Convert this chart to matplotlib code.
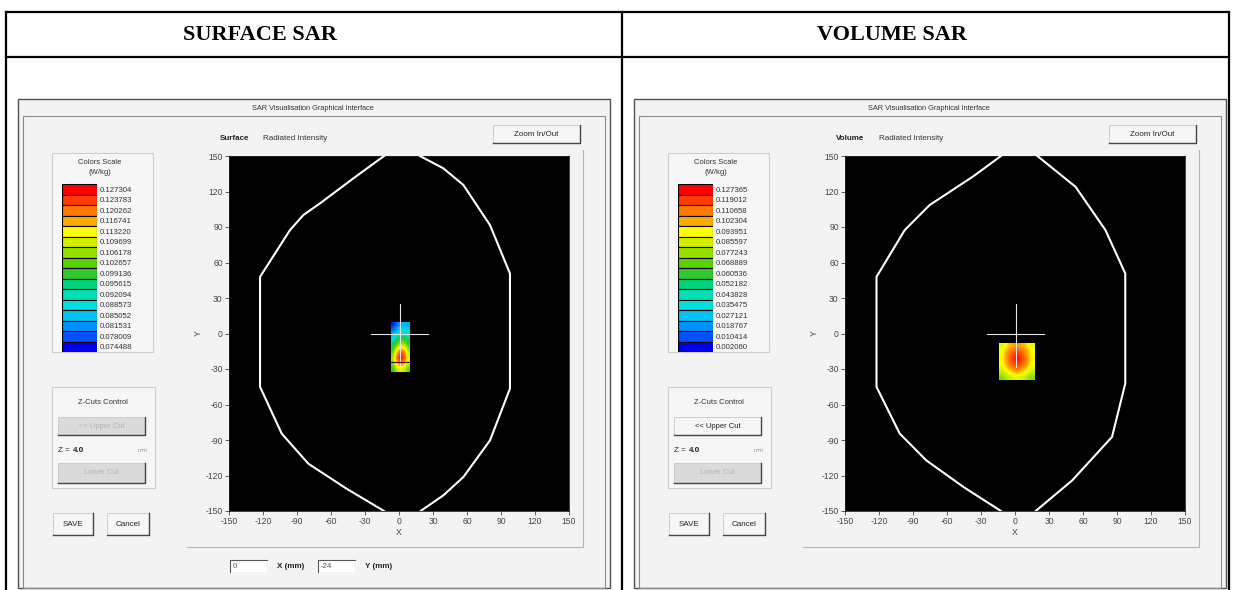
import matplotlib
matplotlib.use("Agg")
import matplotlib.pyplot as plt
from matplotlib.patches import Rectangle
from matplotlib.colors import LinearSegmentedColormap

plt.rcParams['axes.unicode_minus'] = False

# colour scale of the two SAR views (top = highest)
surface_levels = [0.127304, 0.123783, 0.120262, 0.116741, 0.113220, 0.109699,
                  0.106178, 0.102657, 0.099136, 0.095615, 0.092094, 0.088573,
                  0.085052, 0.081531, 0.078009, 0.074488]
volume_levels = [0.127365, 0.119012, 0.110658, 0.102304, 0.093951, 0.085597,
                 0.077243, 0.068889, 0.060536, 0.052182, 0.043828, 0.035475,
                 0.027121, 0.018767, 0.010414, 0.002060]
scale_colors = ['#ff0000', '#ff3c00', '#ff7800', '#ffaa00', '#ffff00', '#d2f000',
                '#96e000', '#5ad200', '#32c832', '#00d27d', '#00e0b4', '#00e0e0',
                '#00c3f5', '#0091ff', '#0050ff', '#0000f0']

# surface hot spot (rows top -> bottom), W/kg
surface_extent = [-7.4, 8.8, -32.5, 9.0]
surface_grid = [
    [0.0760, 0.0790, 0.0830, 0.0845, 0.0835],
    [0.0800, 0.0840, 0.0880, 0.0890, 0.0870],
    [0.0860, 0.0910, 0.0950, 0.0950, 0.0920],
    [0.0930, 0.0990, 0.1040, 0.1030, 0.0980],
    [0.0990, 0.1070, 0.1130, 0.1110, 0.1040],
    [0.1040, 0.1150, 0.1240, 0.1200, 0.1090],
    [0.1070, 0.1200, 0.1273, 0.1230, 0.1110],
    [0.1050, 0.1140, 0.1200, 0.1160, 0.1080],
    [0.1000, 0.1080, 0.1110, 0.1090, 0.1030],
]

# volume hot spot (rows top -> bottom), W/kg
volume_extent = [-14.5, 16.5, -39.0, -8.0]
volume_grid = [
    [0.090, 0.100, 0.106, 0.100, 0.090],
    [0.094, 0.110, 0.120, 0.110, 0.094],
    [0.095, 0.114, 0.127, 0.114, 0.095],
    [0.093, 0.110, 0.121, 0.110, 0.093],
    [0.086, 0.098, 0.106, 0.098, 0.086],
    [0.075, 0.085, 0.090, 0.085, 0.075],
]

# phantom outline (mm), left and right halves
surf_head_lx = [-13.2, -40.3, -69.7, -84.4, -96.2, -122.6, -122.6, -103.5, -80.0, -46.2, -13.2]
surf_head_ly = [150, 131.1, 110.0, 100.1, 87.4, 47.9, -45.1, -84.6, -110.0, -131.2, -150]
surf_head_rx = [19.1, 39.1, 56.8, 80.3, 97.9, 97.9, 80.3, 56.8, 39.1, 18.5]
surf_head_ry = [-150, -136.8, -121.3, -90.3, -46.6, 50.7, 91.6, 125.5, 139.6, 150]

vol_head_lx = [-12.4, -37.3, -75.4, -97.3, -122.2, -122.2, -101.7, -78.3, -45.0, -12.4]
vol_head_ly = [150, 132.5, 108.5, 87.4, 47.9, -45.1, -84.6, -107.2, -130.0, -150]
vol_head_rx = [18.3, 50.5, 85.6, 97.3, 97.3, 79.8, 53.4, 19.8]
vol_head_ry = [-150, -124.1, -87.4, -42.3, 50.7, 87.4, 124.0, 150]

ticks = [-150, -120, -90, -60, -30, 0, 30, 60, 90, 120, 150]
peak_x, peak_y = 0, -24

W, H = 1234, 590
GUI = 'Liberation Sans'


def frac(x0, y0, x1, y1):
    return [x0 / W, 1 - y1 / H, (x1 - x0) / W, (y1 - y0) / H]


def button(ax, x0, y0, x1, y1, label, enabled=True, size=5.8):
    face = '#f6f6f6' if enabled else '#dadada'
    ax.add_patch(Rectangle((x0, y0), x1 - x0, y1 - y0, facecolor=face,
                           edgecolor='#c8c8c8', lw=0.6))
    ax.plot([x0, x1, x1], [y1, y1, y0], color='#444444', lw=1.0)
    ax.text((x0 + x1) / 2, (y0 + y1) / 2, label, ha='center', va='center',
            fontsize=size, family=GUI,
            color='#222222' if enabled else '#b4b4b4')


def window(fig, page, dx, mode, levels, grid, extent, hlx, hly, hrx, hry,
           upper_enabled, show_coords):
    # frame
    page.add_patch(Rectangle((18 + dx, 99), 592, 489, facecolor='#f3f3f3',
                             edgecolor='#505050', lw=1.0))
    page.add_patch(Rectangle((23 + dx, 116), 582, 472, facecolor='none',
                             edgecolor='#8a8a8a', lw=0.8))
    page.text(313 + dx, 108, 'SAR Visualisation Graphical Interface',
              ha='center', va='center', fontsize=5.3, family=GUI, color='#333333')

    # header of plot
    page.text(220 + dx, 139, mode, ha='left', va='center', fontsize=5.8,
              family=GUI, weight='bold', color='#222222')
    page.text(263 + dx, 139, 'Radiated Intensity', ha='left', va='center',
              fontsize=5.8, family=GUI, color='#333333')
    button(page, 493 + dx, 125, 580 + dx, 143, 'Zoom In/Out')
    page.plot([187 + dx, 583 + dx, 583 + dx], [547, 547, 150],
              color='#b4b4b4', lw=0.8)

    # colour scale box
    page.add_patch(Rectangle((52 + dx, 153), 101, 199, facecolor='#f6f6f6',
                             edgecolor='#cccccc', lw=0.8))
    page.text(100 + dx, 162, 'Colors Scale', ha='center', va='center',
              fontsize=5.5, family=GUI, color='#333333')
    page.text(100 + dx, 173, '(W/kg)', ha='center', va='center',
              fontsize=5.5, family=GUI, color='#333333')
    cs = fig.add_axes(frac(62 + dx, 184, 97 + dx, 352))
    pos = list(range(len(levels)))[::-1]
    cs.barh(pos, [1] * len(levels), height=1, color=scale_colors,
            edgecolor='black', lw=0.8)
    cs.set_xlim(0, 1)
    cs.set_ylim(-0.5, len(levels) - 0.5)
    cs.set_xticks([])
    cs.set_yticks(pos)
    cs.set_yticklabels(['%.6f' % v for v in levels], fontsize=5.6,
                       family=GUI, color='#333333')
    cs.yaxis.tick_right()
    cs.tick_params(axis='y', length=0, pad=2)
    for s in cs.spines.values():
        s.set_visible(False)

    # Z-cuts box
    page.add_patch(Rectangle((52 + dx, 387), 103, 101, facecolor='#f6f6f6',
                             edgecolor='#cccccc', lw=0.8))
    page.text(103 + dx, 402, 'Z-Cuts Control', ha='center', va='center',
              fontsize=5.5, family=GUI, color='#333333')
    button(page, 58 + dx, 417, 145 + dx, 435, '<< Upper Cut', upper_enabled, 5.5)
    page.text(58 + dx, 450, 'Z =', ha='left', va='center', fontsize=5.8,
              family=GUI, color='#222222')
    page.text(73 + dx, 450, '4.0', ha='left', va='center', fontsize=5.8,
              family=GUI, weight='bold', color='#222222')
    page.text(138 + dx, 450, 'mm', ha='left', va='center', fontsize=4.5,
              family=GUI, color='#999999')
    button(page, 58 + dx, 463, 145 + dx, 483, 'Lower Cut', False, 5.5)
    button(page, 53 + dx, 513, 93 + dx, 535, 'SAVE', True, 5.8)
    button(page, 107 + dx, 513, 149 + dx, 535, 'Cancel', True, 5.8)

    if show_coords:
        for x0, txt in [(230, str(peak_x)), (318, str(peak_y))]:
            page.add_patch(Rectangle((x0 + dx, 560), 37, 12, facecolor='white',
                                     edgecolor='none'))
            page.plot([x0 + dx, x0 + dx, x0 + 37 + dx], [572, 560, 560],
                      color='#555555', lw=0.8)
            page.text(x0 + 3 + dx, 566, txt, ha='left', va='center',
                      fontsize=5.6, family=GUI, color='#555555')
        page.text(277 + dx, 567, 'X (mm)', ha='left', va='center', fontsize=5.8,
                  family=GUI, weight='bold', color='#222222')
        page.text(365 + dx, 567, 'Y (mm)', ha='left', va='center', fontsize=5.8,
                  family=GUI, weight='bold', color='#222222')

    # the SAR map
    ax = fig.add_axes(frac(229 + dx, 156, 569 + dx, 511))
    ax.set_facecolor('black')
    cmap = LinearSegmentedColormap.from_list('sar', scale_colors[::-1])
    ax.imshow(grid, extent=extent, cmap=cmap, vmin=levels[-1], vmax=levels[0],
              interpolation='bilinear', aspect='auto', zorder=2)
    ax.plot(hlx, hly, color='white', lw=1.5, zorder=3)
    ax.plot(hrx, hry, color='white', lw=1.5, zorder=3)
    ax.plot([-25, 26], [0, 0], color='#e6e6e6', lw=0.8, zorder=4)
    ax.plot([0.5, 0.5], [25, peak_y - 4], color='#e6e6e6', lw=0.8, zorder=4)
    ax.set_xlim(-150, 150)
    ax.set_ylim(-150, 150)
    ax.set_xticks(ticks)
    ax.set_yticks(ticks)
    ax.tick_params(labelsize=6.2, colors='#444444', length=3, width=0.6, pad=1.5)
    for lab in ax.get_xticklabels() + ax.get_yticklabels():
        lab.set_family(GUI)
    ax.set_xlabel('X', fontsize=6.2, family=GUI, color='#444444', labelpad=1)
    ax.set_ylabel('Y', fontsize=6.2, family=GUI, color='#444444', labelpad=2)
    for s in ax.spines.values():
        s.set_color('#222222')
        s.set_linewidth(0.6)
    return ax


fig = plt.figure(figsize=(W / 100, H / 100), dpi=100)
fig.patch.set_facecolor('white')
page = fig.add_axes([0, 0, 1, 1])
page.set_xlim(0, W)
page.set_ylim(H, 0)
page.axis('off')

# document table
lw_t = 1.6
page.plot([6, 1229], [12, 12], color='black', lw=lw_t)
page.plot([6, 1229], [57, 57], color='black', lw=lw_t)
for x in [6, 622, 1229]:
    page.plot([x, x], [12, H], color='black', lw=lw_t)
page.text(260, 35, 'SURFACE SAR', ha='center', va='center', fontsize=16,
          family='Liberation Serif', weight='bold')
page.text(892, 35, 'VOLUME SAR', ha='center', va='center', fontsize=16,
          family='Liberation Serif', weight='bold')

ax_s = window(fig, page, 0, 'Surface', surface_levels, surface_grid,
              surface_extent, surf_head_lx, surf_head_ly, surf_head_rx,
              surf_head_ry, False, True)
ax_s.plot([surface_extent[0], surface_extent[1]], [peak_y, peak_y],
          color='#5a0000', lw=0.8, zorder=4)

ax_v = window(fig, page, 616, 'Volume', volume_levels, volume_grid,
              volume_extent, vol_head_lx, vol_head_ly, vol_head_rx,
              vol_head_ry, True, False)

fig.savefig('out.png', dpi=100)
